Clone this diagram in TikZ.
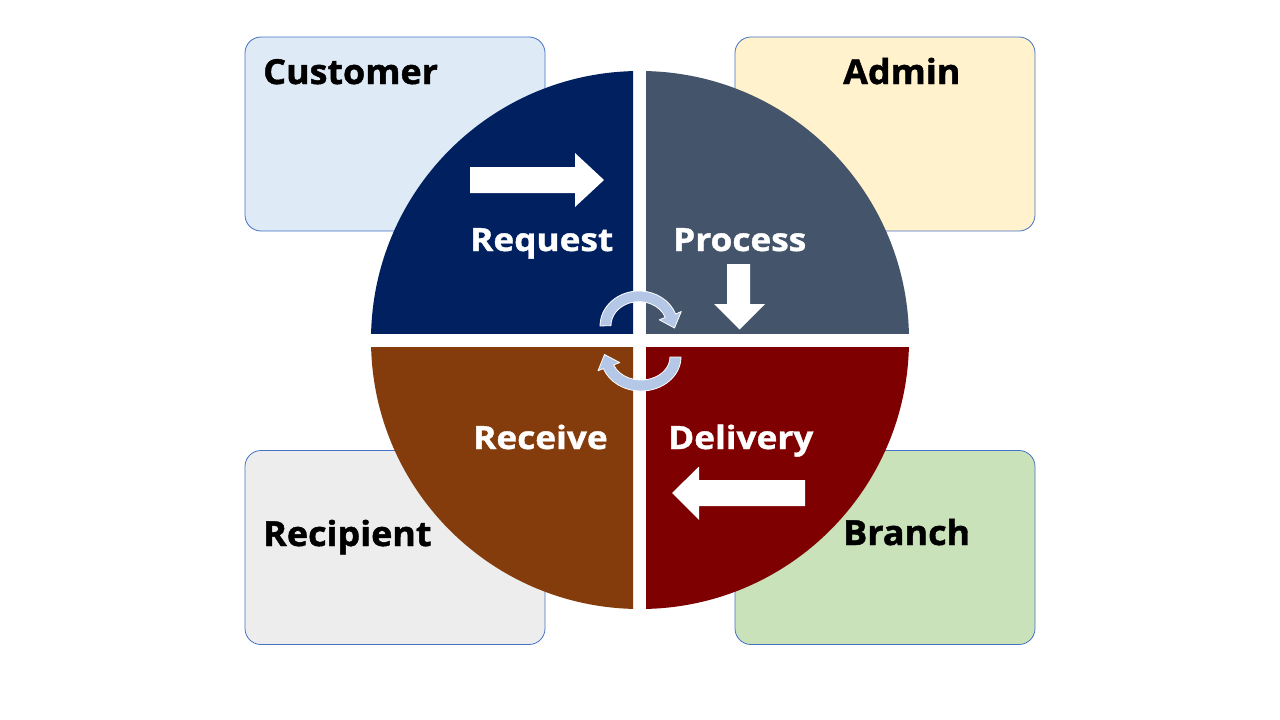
\documentclass[tikz,border=0pt]{standalone}
\usepackage{fontspec}
\setmainfont{Open Sans}
\newfontfamily\rolefont{Open Sans}[FakeStretch=1.04, BoldFeatures={FakeBold=1.3}]
\newfontfamily\quadfont{Open Sans}[FakeStretch=1.1, BoldFeatures={FakeBold=1.2}]
\definecolor{navyq}{HTML}{002060}
\definecolor{slateq}{HTML}{44546A}
\definecolor{brownq}{HTML}{843C0C}
\definecolor{maroonq}{HTML}{7F0000}
\definecolor{cycl}{HTML}{B4C7E7}
\definecolor{edgeb}{HTML}{4472C4}
\definecolor{custf}{HTML}{DEEBF7}
\definecolor{adminf}{HTML}{FFF2CC}
\definecolor{recf}{HTML}{EDEDED}
\definecolor{branchf}{HTML}{C9E2BA}
\tikzset{
 rolebox/.style={draw=edgeb, line width=0.8pt, rounded corners=16pt, minimum width=300pt, minimum height=194pt, inner sep=0pt},
 rolelbl/.style={anchor=base west, inner sep=0pt, font=\rolefont\bfseries\fontsize{34.5}{40}\selectfont, text=black},
 quadlbl/.style={anchor=base west, inner sep=0pt, font=\quadfont\bfseries\fontsize{32}{36}\selectfont, text=white},
 whitearrow/.style={fill=white},
 cyclearrow/.style={fill=cycl, draw=white, line width=0.8pt, line join=round}
}
\begin{document}
\begin{tikzpicture}[x=1pt,y=-1pt]
\useasboundingbox (0,0) rectangle (1280,720);
\fill[white] (0,0) rectangle (1280,720);
% role boxes
\node[rolebox, fill=custf] (cust) at (395,134) {};
\node[rolebox, fill=adminf] (admin) at (885,134) {};
\node[rolebox, fill=recf] (recip) at (395,547.5) {};
\node[rolebox, fill=branchf] (branch) at (885,547.5) {};
\node[rolelbl] (tcust) at (263,84) {Customer};
\node[rolelbl] (tadmin) at (843,84) {Admin};
\node[rolelbl] (trecip) at (263,546) {Recipient};
\node[rolelbl] (tbranch) at (843,545) {Branch};
% quadrants
\begin{scope}\clip (360,60) rectangle (633,333); \fill[navyq] (640,340) circle[radius=269];\end{scope}
\begin{scope}\clip (646,60) rectangle (920,333); \fill[slateq] (640,340) circle[radius=269];\end{scope}
\begin{scope}\clip (360,347) rectangle (633,620); \fill[brownq] (640,340) circle[radius=269];\end{scope}
\begin{scope}\clip (646,347) rectangle (920,620); \fill[maroonq] (640,340) circle[radius=269];\end{scope}
\node[quadlbl] (treq) at (470,251) {Request};
\node[quadlbl] (tproc) at (673,251) {Process};
\node[quadlbl] (trecv) at (473,449) {Receive};
\node[quadlbl] (tdeliv) at (668,449) {Delivery};
% white arrows
\fill[whitearrow] (470,167) -- (575,167) -- (575,153) -- (604,180) -- (575,207) -- (575,193) -- (470,193) -- cycle;
\fill[whitearrow] (727,264) -- (750,264) -- (750,304) -- (765,304) -- (739.5,329.5) -- (714,304) -- (727,304) -- cycle;
\fill[whitearrow] (805,480) -- (805,506) -- (699,506) -- (699,520) -- (672,493) -- (699,466.5) -- (699,480) -- cycle;
% cycle arrows
\path[cyclearrow] (600,326) arc[start angle=180, end angle=340, x radius=39, y radius=35]
  -- (681.3,311.5) -- (674.5,328) -- (659.2,319.8) -- (665.3,317.4)
  arc[start angle=340, end angle=180, x radius=28, y radius=24] -- cycle;
\path[cyclearrow] (681,357) arc[start angle=0, end angle=160, x radius=40, y radius=34]
  -- (598,370.8) -- (604.5,354.5) -- (619.8,362.6) -- (613.7,364.9)
  arc[start angle=160, end angle=0, x radius=29, y radius=23] -- cycle;
\end{tikzpicture}
\end{document}
